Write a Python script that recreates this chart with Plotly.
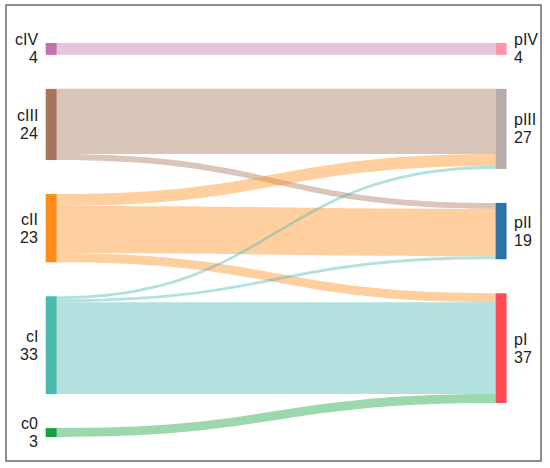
import plotly.graph_objects as go

# nodes: left column (c*) then right column (p*)
left_names = ["cIV", "cIII", "cII", "cI", "c0"]
right_names = ["pIV", "pIII", "pII", "pI"]
left_colors = ["#c472a7", "#a8755a", "#ff8c1a", "#4bbbb0", "#14a03c"]
right_colors = ["#ff96a8", "#b9aca8", "#2d73a5", "#ff4b55"]

# flows: (source, target, value)
link_source = ["cIV", "cIII", "cIII", "cII", "cII", "cII", "cI", "cI", "cI", "c0"]
link_target = ["pIV", "pIII", "pII", "pIII", "pII", "pI", "pIII", "pII", "pI", "pI"]
link_value = [4, 22, 2, 4, 16, 3, 1, 1, 31, 3]

W, H = 550, 468
NODE_W = 11
PAD = 34
# sankey box in pixels (node centres at the x ends)
X0, X1 = 50.75, 501.5
Y0, Y1 = 43, 437

names = left_names + right_names
colors = left_colors + right_colors
idx = {n: i for i, n in enumerate(names)}


def node_totals(col, key_list):
    return [sum(v for s, v in zip(key_list, link_value) if s == n) for n in col]


left_vals = node_totals(left_names, link_source)
right_vals = node_totals(right_names, link_target)

box_h = Y1 - Y0
ky = min((box_h - (len(c) - 1) * PAD) / sum(v)
         for c, v in [(left_names, left_vals), (right_names, right_vals)])


def centres(vals):
    out, acc = [], 0
    for i, v in enumerate(vals):
        out.append(acc + v * ky / 2)
        acc += v * ky + PAD
    return out


left_c = centres(left_vals)
right_c = centres(right_vals)

node_x = [0.001] * len(left_names) + [0.999] * len(right_names)
node_y = [c / box_h for c in left_c + right_c]


def rgba(hexcol, a):
    h = hexcol.lstrip("#")
    r, g, b = int(h[0:2], 16), int(h[2:4], 16), int(h[4:6], 16)
    return f"rgba({r},{g},{b},{a})"


fig = go.Figure(go.Sankey(
    domain=dict(x=[X0 / W, X1 / W], y=[1 - Y1 / H, 1 - Y0 / H]),
    arrangement="fixed",
    node=dict(
        label=names,
        color=colors,
        x=node_x,
        y=node_y,
        pad=PAD,
        thickness=NODE_W,
        line=dict(width=0),
    ),
    link=dict(
        source=[idx[s] for s in link_source],
        target=[idx[t] for t in link_target],
        value=link_value,
        color=[rgba(colors[idx[s]], 0.42) for s in link_source],
    ),
    textfont=dict(size=1, color="rgba(0,0,0,0)"),
))

font = dict(family="Arial, Liberation Sans, sans-serif", size=16, color="#222")
annotations = []
for col, cents, vals, side in [(left_names, left_c, left_vals, "left"),
                               (right_names, right_c, right_vals, "right")]:
    for n, c, v in zip(col, cents, vals):
        if side == "left":
            xp = (X0 - NODE_W / 2 - 5) / W
            anchor = "right"
        else:
            xp = (X1 + NODE_W / 2 + 5) / W
            anchor = "left"
        yp = 1 - (Y0 + c) / H
        for txt, shift in [(n, 9), (str(v), -9)]:
            annotations.append(dict(
                x=xp, y=yp, xref="paper", yref="paper", text=txt,
                showarrow=False, xanchor=anchor, yanchor="middle",
                yshift=shift, align=anchor, font=font,
            ))

fig.update_layout(
    width=W,
    height=H,
    margin=dict(l=0, r=0, t=0, b=0),
    paper_bgcolor="white",
    annotations=annotations,
    shapes=[dict(
        type="rect", xref="paper", yref="paper",
        x0=6 / W, x1=541 / W, y0=1 - 461 / H, y1=1 - 5 / H,
        line=dict(color="#6b6b6b", width=1.5),
    )],
    showlegend=False,
)

# page has a default body margin; drop it so the figure sits at 0,0
fig.write_html("out.html", config={"displayModeBar": False},
               post_script="document.body.style.margin='0px';")
